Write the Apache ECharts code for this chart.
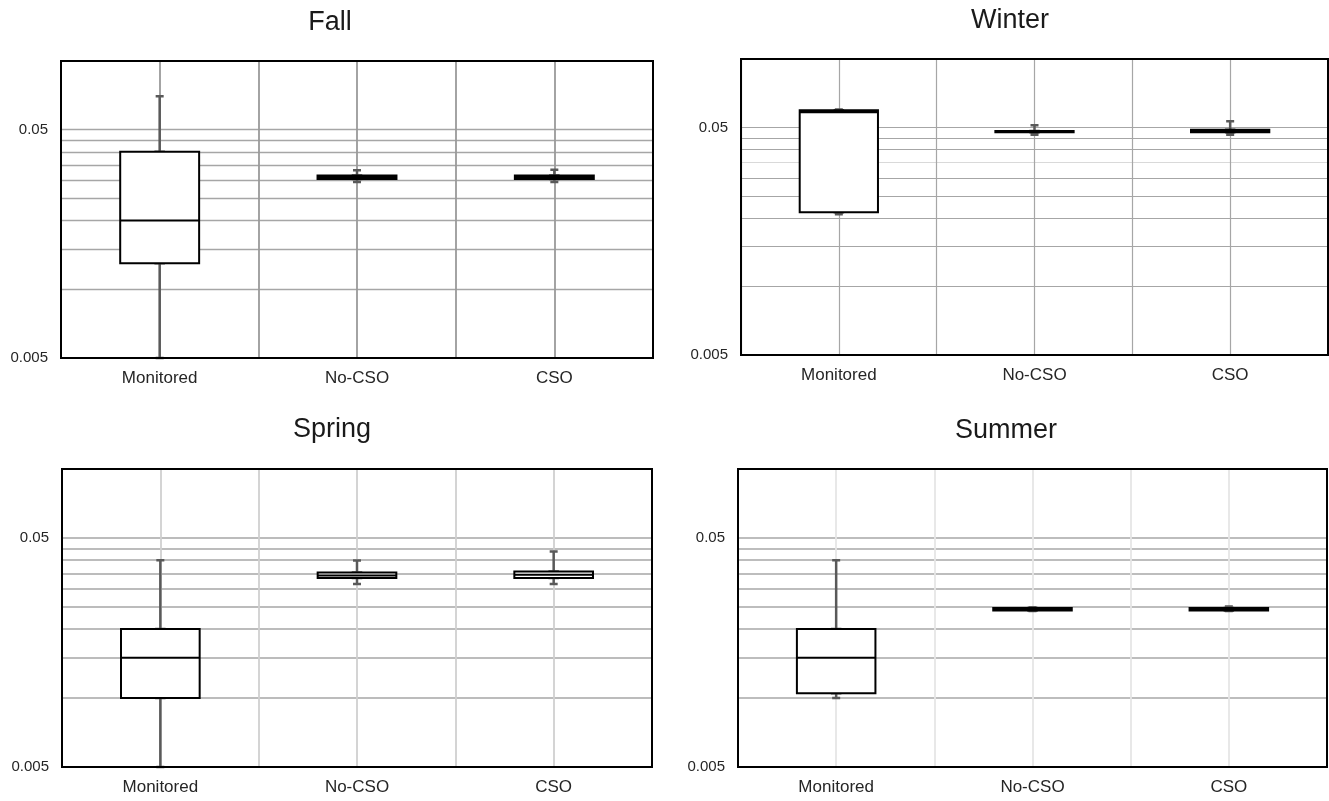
<!DOCTYPE html>
<html>
<head>
<meta charset="utf-8">
<script src="https://cdn.jsdelivr.net/npm/echarts@6/dist/echarts.min.js"></script>
<style>
html,body{margin:0;padding:0;background:#fff;}
#chart{width:1329px;height:801px;}
</style>
</head>
<body>
<div id="chart"></div>
<script>
// ---------------- data ----------------
const categories = ['Monitored', 'No-CSO', 'CSO'];
const seasonNames = ['Fall', 'Winter', 'Spring', 'Summer'];
// each box: [min, Q1, median, Q3, max]
const fallValues = [
  [0.0050, 0.0130, 0.0200, 0.0400, 0.0700],
  [0.0295, 0.0304, 0.0310, 0.0315, 0.0332],
  [0.0295, 0.0304, 0.0310, 0.0315, 0.0334]
];
const winterValues = [
  [0.0208, 0.0212, 0.0584, 0.0596, 0.0600],
  [0.0464, 0.0476, 0.0479, 0.0482, 0.0512],
  [0.0464, 0.0476, 0.0483, 0.0489, 0.0533]
];
const springValues = [
  [0.0050, 0.0100, 0.0150, 0.0200, 0.0400],
  [0.0315, 0.0334, 0.0343, 0.0353, 0.0399],
  [0.0315, 0.0334, 0.0345, 0.0357, 0.0436]
];
const summerValues = [
  [0.0100, 0.0105, 0.0150, 0.0200, 0.0400],
  [0.0240, 0.0241, 0.0244, 0.0247, 0.0249],
  [0.0240, 0.0241, 0.0244, 0.0247, 0.0251]
];
const yLabelValues = [0.005, 0.05];
const yGridValues = [0.01, 0.015, 0.02, 0.025, 0.03, 0.035, 0.04, 0.045, 0.05];
const yMin = 0.005;
const yMax = 0.1;
const halfSlots = ['h1', 'h2', 'h3', 'h4', 'h5', 'h6']; // half-category gridline helper

// ---------------- layout / style ----------------
const FONT = "'Liberation Sans', Arial, sans-serif";
const panels = [
  { values: fallValues,   grid: {left: 61,  top: 61,  width: 592, height: 297}, tx: 330,  ty: 9,
    hColor: '#a6a6a6', hWidth: 1.3, vColor: '#9a9a9a', vWidth: 1.8 },
  { values: winterValues, grid: {left: 741, top: 59,  width: 587, height: 296}, tx: 1010, ty: 7,
    hColor: ['#a6a6a6','#a6a6a6','#a6a6a6','#a6a6a6','#a6a6a6','#d9d9d9','#a6a6a6','#a6a6a6','#a6a6a6'], hWidth: 1.2, vColor: '#a6a6a6', vWidth: 1.2 },
  { values: springValues, grid: {left: 62,  top: 469, width: 590, height: 298}, tx: 332,  ty: 416,
    hColor: '#a6a6a6', hWidth: 1.6, vColor: '#d0d0d0', vWidth: 1.8 },
  { values: summerValues, grid: {left: 738, top: 469, width: 589, height: 298}, tx: 1006, ty: 417,
    hColor: '#bdbdbd', hWidth: 1.8, vColor: '#e6e6e6', vWidth: 1.8 }
];

const option = {
  animation: false,
  backgroundColor: '#fff',
  title: [], grid: [], xAxis: [], yAxis: [], series: []
};

panels.forEach(function (p, i) {
  option.title.push({
    text: seasonNames[i], left: p.tx, top: p.ty, textAlign: 'center', padding: 0,
    textStyle: { fontFamily: FONT, fontSize: 27, fontWeight: 'normal', color: '#1a1a1a' }
  });
  option.grid.push(Object.assign({}, p.grid, {
    show: true, z: 10, borderColor: '#000', borderWidth: 2, backgroundColor: 'transparent', containLabel: false
  }));
  // main category axis (labels) - index 3i
  option.xAxis.push({
    type: 'category', gridIndex: i, data: categories, boundaryGap: true,
    axisLine: { show: false }, axisTick: { show: false }, splitLine: { show: false },
    axisLabel: { interval: 0, fontFamily: FONT, fontSize: 17, color: '#262626', margin: 12 }
  });
  // helper axis giving gridlines at every half category - index 3i+1
  option.xAxis.push({
    type: 'category', gridIndex: i, position: 'top', data: halfSlots, boundaryGap: true,
    axisLine: { show: false }, axisTick: { show: false }, axisLabel: { show: false },
    splitLine: { show: true, interval: 0, lineStyle: { color: p.vColor, width: p.vWidth } }
  });
  // hidden twin category axis for the whisker series so boxes overlap instead of side-by-side - index 3i+2
  option.xAxis.push({
    type: 'category', gridIndex: i, position: 'bottom', data: categories, boundaryGap: true, show: false
  });
  option.yAxis.push({
    type: 'log', logBase: 10, gridIndex: i, min: yMin, max: yMax,
    axisLine: { show: false },
    axisTick: { show: false, customValues: yGridValues },
    axisLabel: {
      customValues: yLabelValues, fontFamily: FONT, fontSize: 15, color: '#262626', margin: 13,
      formatter: function (v) { return String(+(+v).toPrecision(6)); }
    },
    splitLine: { show: true, lineStyle: { color: p.hColor, width: p.hWidth } }
  });
  // whiskers (grey, narrow caps)
  option.series.push({
    type: 'boxplot', xAxisIndex: 3 * i + 2, yAxisIndex: i,
    data: p.values, boxWidth: [8, 8], silent: true, z: 2,
    itemStyle: { color: '#595959', borderColor: '#595959', borderWidth: 2.5 },
    emphasis: { disabled: true }
  });
  // boxes (white, black outline)
  option.series.push({
    type: 'boxplot', xAxisIndex: 3 * i, yAxisIndex: i,
    data: p.values.map(function (v) { return [v[1], v[1], v[2], v[3], v[3]]; }),
    boxWidth: ['40%', '40%'], silent: true, z: 3,
    itemStyle: { color: '#ffffff', borderColor: '#000000', borderWidth: 2 },
    emphasis: { disabled: true }
  });
});

const chart = echarts.init(document.getElementById('chart'), null, { renderer: 'canvas' });
chart.setOption(option);
</script>
</body>
</html>
